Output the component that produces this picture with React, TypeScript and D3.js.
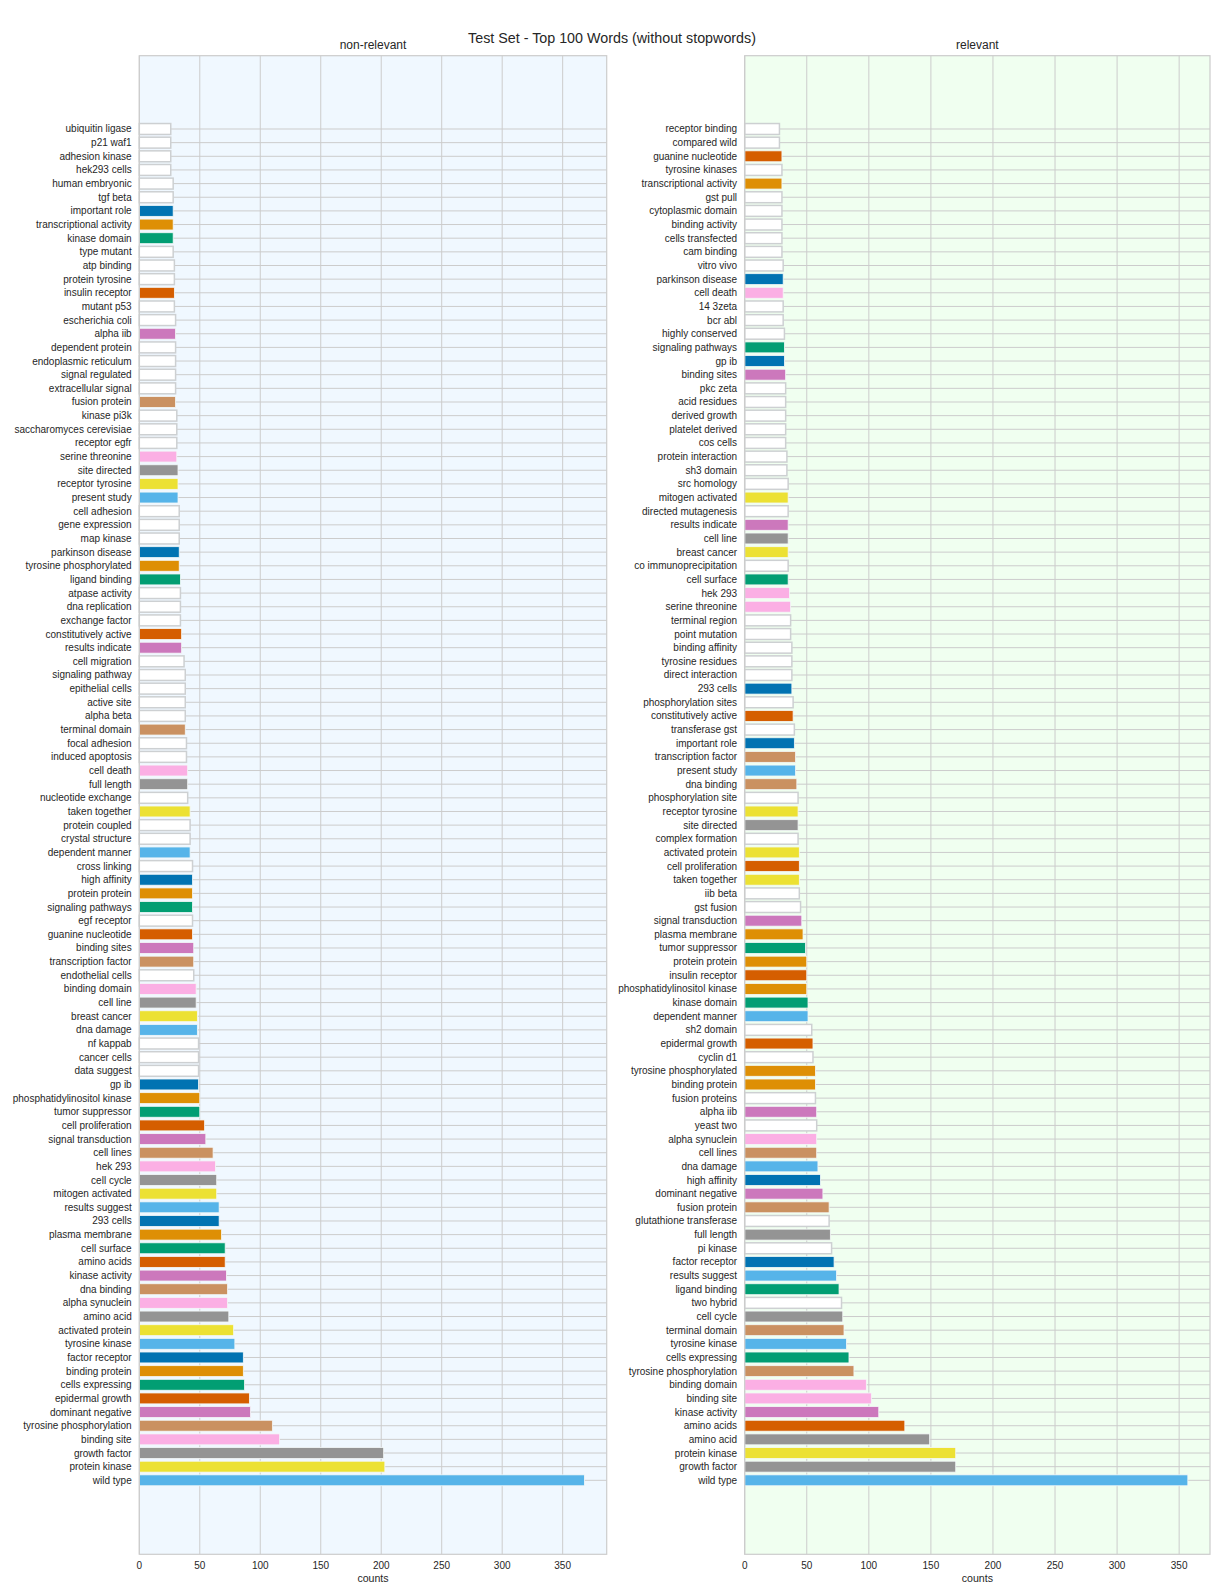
import * as d3 from "d3";
import React, { useEffect, useRef } from "react";

// top 100 bigrams per class, listed top to bottom as drawn
const nonRelevantWords = [
  "ubiquitin ligase", "p21 waf1", "adhesion kinase", "hek293 cells", "human embryonic",
  "tgf beta", "important role", "transcriptional activity", "kinase domain", "type mutant",
  "atp binding", "protein tyrosine", "insulin receptor", "mutant p53", "escherichia coli",
  "alpha iib", "dependent protein", "endoplasmic reticulum", "signal regulated", "extracellular signal",
  "fusion protein", "kinase pi3k", "saccharomyces cerevisiae", "receptor egfr", "serine threonine",
  "site directed", "receptor tyrosine", "present study", "cell adhesion", "gene expression",
  "map kinase", "parkinson disease", "tyrosine phosphorylated", "ligand binding", "atpase activity",
  "dna replication", "exchange factor", "constitutively active", "results indicate", "cell migration",
  "signaling pathway", "epithelial cells", "active site", "alpha beta", "terminal domain",
  "focal adhesion", "induced apoptosis", "cell death", "full length", "nucleotide exchange",
  "taken together", "protein coupled", "crystal structure", "dependent manner", "cross linking",
  "high affinity", "protein protein", "signaling pathways", "egf receptor", "guanine nucleotide",
  "binding sites", "transcription factor", "endothelial cells", "binding domain", "cell line",
  "breast cancer", "dna damage", "nf kappab", "cancer cells", "data suggest",
  "gp ib", "phosphatidylinositol kinase", "tumor suppressor", "cell proliferation", "signal transduction",
  "cell lines", "hek 293", "cell cycle", "mitogen activated", "results suggest",
  "293 cells", "plasma membrane", "cell surface", "amino acids", "kinase activity",
  "dna binding", "alpha synuclein", "amino acid", "activated protein", "tyrosine kinase",
  "factor receptor", "binding protein", "cells expressing", "epidermal growth", "dominant negative",
  "tyrosine phosphorylation", "binding site", "growth factor", "protein kinase", "wild type",
];
const nonRelevantCounts = [
  26, 26, 26, 26, 28, 28, 28, 28, 28, 28,
  29, 29, 29, 29, 30, 30, 30, 30, 30, 30,
  30, 31, 31, 31, 31, 32, 32, 32, 33, 33,
  33, 33, 33, 34, 34, 34, 34, 35, 35, 37,
  38, 38, 38, 38, 38, 39, 39, 40, 40, 40,
  42, 42, 42, 42, 44, 44, 44, 44, 44, 44,
  45, 45, 45, 47, 47, 48, 48, 49, 49, 49,
  49, 50, 50, 54, 55, 61, 63, 64, 64, 66,
  66, 68, 71, 71, 72, 73, 73, 74, 78, 79,
  86, 86, 87, 91, 92, 110, 116, 202, 203, 368,
];

const relevantWords = [
  "receptor binding", "compared wild", "guanine nucleotide", "tyrosine kinases", "transcriptional activity",
  "gst pull", "cytoplasmic domain", "binding activity", "cells transfected", "cam binding",
  "vitro vivo", "parkinson disease", "cell death", "14 3zeta", "bcr abl",
  "highly conserved", "signaling pathways", "gp ib", "binding sites", "pkc zeta",
  "acid residues", "derived growth", "platelet derived", "cos cells", "protein interaction",
  "sh3 domain", "src homology", "mitogen activated", "directed mutagenesis", "results indicate",
  "cell line", "breast cancer", "co immunoprecipitation", "cell surface", "hek 293",
  "serine threonine", "terminal region", "point mutation", "binding affinity", "tyrosine residues",
  "direct interaction", "293 cells", "phosphorylation sites", "constitutively active", "transferase gst",
  "important role", "transcription factor", "present study", "dna binding", "phosphorylation site",
  "receptor tyrosine", "site directed", "complex formation", "activated protein", "cell proliferation",
  "taken together", "iib beta", "gst fusion", "signal transduction", "plasma membrane",
  "tumor suppressor", "protein protein", "insulin receptor", "phosphatidylinositol kinase", "kinase domain",
  "dependent manner", "sh2 domain", "epidermal growth", "cyclin d1", "tyrosine phosphorylated",
  "binding protein", "fusion proteins", "alpha iib", "yeast two", "alpha synuclein",
  "cell lines", "dna damage", "high affinity", "dominant negative", "fusion protein",
  "glutathione transferase", "full length", "pi kinase", "factor receptor", "results suggest",
  "ligand binding", "two hybrid", "cell cycle", "terminal domain", "tyrosine kinase",
  "cells expressing", "tyrosine phosphorylation", "binding domain", "binding site", "kinase activity",
  "amino acids", "amino acid", "protein kinase", "growth factor", "wild type",
];
const relevantCounts = [
  28, 28, 30, 30, 30, 30, 30, 30, 30, 30,
  31, 31, 31, 31, 31, 32, 32, 32, 33, 33,
  33, 33, 33, 33, 34, 34, 35, 35, 35, 35,
  35, 35, 35, 35, 36, 37, 37, 37, 38, 38,
  38, 38, 39, 39, 40, 40, 41, 41, 42, 43,
  43, 43, 43, 44, 44, 44, 44, 45, 46, 47,
  49, 50, 50, 50, 51, 51, 54, 55, 55, 57,
  57, 57, 58, 58, 58, 58, 59, 61, 63, 68,
  68, 69, 70, 72, 74, 76, 78, 79, 80, 82,
  84, 88, 98, 102, 108, 129, 149, 170, 170, 357,
];

const palette = [
  "#0173b2", "#de8f05", "#029e73", "#d55e00", "#cc78bc",
  "#ca9161", "#fbafe4", "#949494", "#ece133", "#56b4e9",
];
const xTicks = [0, 50, 100, 150, 200, 250, 300, 350];

const FONT = "'Liberation Sans', Arial, sans-serif";
const TEXT = "#262626";
const GRID = "#cccccc";

const App = () => {
  const svgRef = useRef(null);

  useEffect(() => {
    const svg = d3.select(svgRef.current).html("");
    const W = 1224;
    const top = 55.7,
      bottom = 1554.3;

    // words present in both lists get a palette colour, in order of appearance on the left
    const shared = nonRelevantWords.filter((w) => relevantWords.includes(w));
    const colorOf = new Map(shared.map((w, i) => [w, palette[i % palette.length]]));

    svg
      .append("text")
      .attr("x", W / 2)
      .attr("y", 43)
      .attr("text-anchor", "middle")
      .style("font-family", FONT)
      .style("font-size", "14.3px")
      .attr("fill", TEXT)
      .text("Test Set - Top 100 Words (without stopwords)");

    const panels = [
      { title: "non-relevant", words: nonRelevantWords, counts: nonRelevantCounts, x0: 139.3, x1: 606.7, bg: "#f0f8ff" },
      { title: "relevant", words: relevantWords, counts: relevantCounts, x0: 744.7, x1: 1210, bg: "#f0fff0" },
    ];

    panels.forEach((p) => {
      const x = d3
        .scaleLinear()
        .domain([0, d3.max(p.counts) * 1.05])
        .range([p.x0, p.x1]);
      const y = d3.scaleLinear().domain([-5.37, 104.42]).range([top, bottom]);
      const step = y(1) - y(0);
      const bh = step * 0.8;

      const g = svg.append("g");

      g.append("rect")
        .attr("x", p.x0)
        .attr("y", top)
        .attr("width", p.x1 - p.x0)
        .attr("height", bottom - top)
        .attr("fill", p.bg);

      // grid
      g.selectAll(".vgrid")
        .data(xTicks)
        .enter()
        .append("line")
        .attr("x1", (d) => x(d))
        .attr("x2", (d) => x(d))
        .attr("y1", top)
        .attr("y2", bottom)
        .attr("stroke", GRID)
        .attr("stroke-width", 1);

      g.selectAll(".hgrid")
        .data(p.words)
        .enter()
        .append("line")
        .attr("x1", p.x0)
        .attr("x2", p.x1)
        .attr("y1", (d, i) => y(i))
        .attr("y2", (d, i) => y(i))
        .attr("stroke", GRID)
        .attr("stroke-width", 1);

      // bars
      g.selectAll(".bar")
        .data(p.words)
        .enter()
        .append("rect")
        .attr("x", x(0))
        .attr("y", (d, i) => y(i) - bh / 2)
        .attr("width", (d, i) => x(p.counts[i]) - x(0))
        .attr("height", bh)
        .attr("fill", (d) => colorOf.get(d) || "#ffffff")
        .attr("stroke", (d) => (colorOf.has(d) ? "#f4f8f8" : "#cdd0d2"))
        .attr("stroke-width", (d) => (colorOf.has(d) ? 0.8 : 1.5));

      // frame
      g.append("rect")
        .attr("x", p.x0)
        .attr("y", top)
        .attr("width", p.x1 - p.x0)
        .attr("height", bottom - top)
        .attr("fill", "none")
        .attr("stroke", GRID)
        .attr("stroke-width", 1.2);

      // y labels
      g.selectAll(".ylab")
        .data(p.words)
        .enter()
        .append("text")
        .attr("x", p.x0 - 7.6)
        .attr("y", (d, i) => y(i))
        .attr("dy", "0.35em")
        .attr("text-anchor", "end")
        .style("font-family", FONT)
        .style("font-size", "10px")
        .attr("fill", TEXT)
        .text((d) => d);

      // x tick labels
      g.selectAll(".xlab")
        .data(xTicks)
        .enter()
        .append("text")
        .attr("x", (d) => x(d))
        .attr("y", 1569)
        .attr("text-anchor", "middle")
        .style("font-family", FONT)
        .style("font-size", "10px")
        .attr("fill", TEXT)
        .text((d) => d);

      g.append("text")
        .attr("x", (p.x0 + p.x1) / 2)
        .attr("y", 1581.5)
        .attr("text-anchor", "middle")
        .style("font-family", FONT)
        .style("font-size", "10.6px")
        .attr("fill", TEXT)
        .text("counts");

      g.append("text")
        .attr("x", (p.x0 + p.x1) / 2)
        .attr("y", 49)
        .attr("text-anchor", "middle")
        .style("font-family", FONT)
        .style("font-size", "12px")
        .attr("fill", TEXT)
        .text(p.title);
    });
  }, []);

  return (
    <svg
      ref={svgRef}
      width={1224}
      height={1584}
      style={{ position: "absolute", left: 0, top: 0, background: "#ffffff" }}
    />
  );
};

export default App;
